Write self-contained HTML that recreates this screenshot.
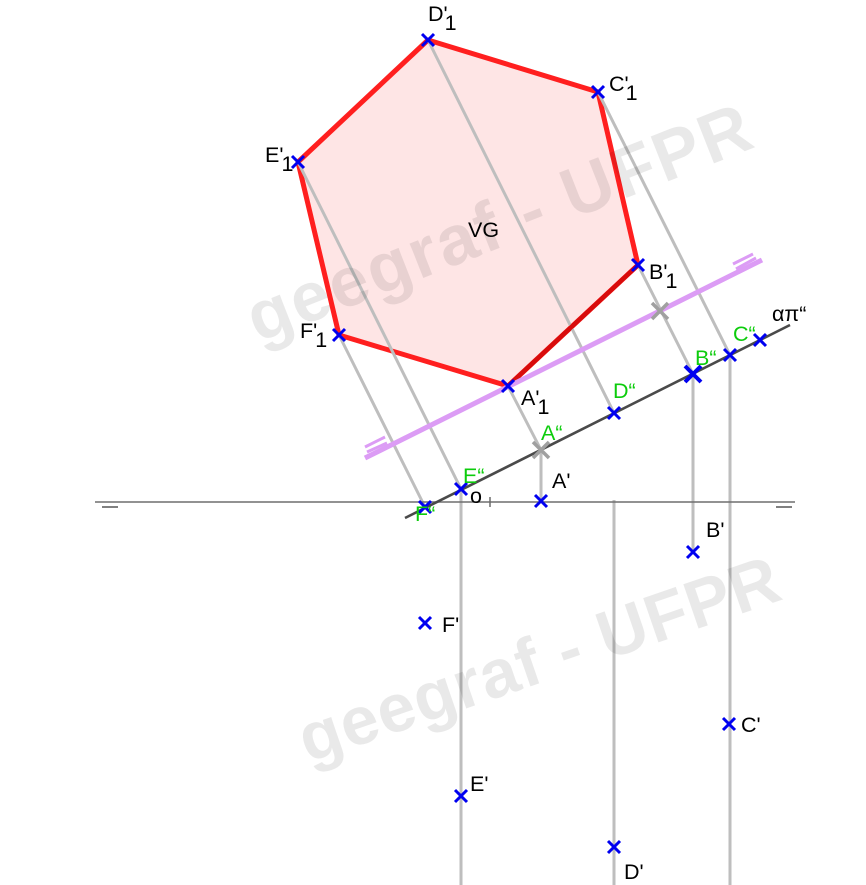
<!DOCTYPE html>
<html lang="pt">
<head>
<meta charset="utf-8">
<title>Verdadeira grandeza - geegraf UFPR</title>
<style>
html,body{margin:0;padding:0;background:#fff}
svg{display:block;font-family:"Liberation Sans",sans-serif}
.lb{font-size:21.5px;fill:#000}
.gr{font-size:21.5px;fill:#0ccc0c}
.wm{font-weight:bold;fill:#000;fill-opacity:.085}
</style>
</head>
<body>
<svg id="chart" width="866" height="885" viewBox="0 0 866 885" xmlns="http://www.w3.org/2000/svg">
<g id="polygon-layer"></g>
<g id="projection-layer"></g>
<text class="wm" style="font-size:70px" textLength="536" transform="translate(258,343) rotate(-21.5)">geegraf - UFPR</text>
<text class="wm" style="font-size:68px" textLength="504" transform="translate(308,763) rotate(-19)">geegraf - UFPR</text>
<g id="line-layer"></g>
<g id="marker-layer"></g>
<g>
<text class="lb" x="428" y="21">D'<tspan dx="-3" dy="9">1</tspan></text>
<text class="lb" x="609" y="91">C'<tspan dx="-3" dy="9">1</tspan></text>
<text class="lb" x="649" y="279">B'<tspan dx="-2" dy="9">1</tspan></text>
<text class="lb" x="521" y="405">A'<tspan dx="-2" dy="9">1</tspan></text>
<text class="lb" x="300" y="338">F'<tspan dx="-2" dy="9">1</tspan></text>
<text class="lb" x="265" y="162">E'<tspan dx="-2" dy="9">1</tspan></text>
<text class="lb" x="468" y="237">VG</text>
<text class="lb" x="552" y="488">A'</text>
<text class="lb" x="706" y="537">B'</text>
<text class="lb" x="741" y="732">C'</text>
<text class="lb" x="624" y="879">D'</text>
<text class="lb" x="470" y="791">E'</text>
<text class="lb" x="442" y="632">F'</text>
<text class="lb" x="470" y="503">o</text>
<text class="lb" x="772" y="321">απ“</text>
<text class="gr" x="541" y="440">A“</text>
<text class="gr" x="695" y="365">B“</text>
<text class="gr" x="733" y="341">C“</text>
<text class="gr" x="613" y="398">D“</text>
<text class="gr" x="463" y="483">E“</text>
<text class="gr" x="415" y="521">F“</text>
</g>
<script>
// Diagram coordinates: origin at the point "o" on the ground line, y upward.
const vgNames = ['A1', 'B1', 'C1', 'D1', 'E1', 'F1'];
const vgX = [18, 148, 108, -62, -192, -151];
const vgY = [116, 237, 410, 462, 340, 167];
const secondNames = ['A2', 'B2', 'C2', 'D2', 'E2', 'F2', 'X2'];
const secondX = [51, 203, 240, 124, -29, -65, 270];
const secondY = [52, 128, 147, 89, 13, -5, 162];
const firstNames = ['A', 'B', 'C', 'D', 'E', 'F'];
const firstX = [51, 203, 239, 124, -29, -65];
const firstY = [1, -50, -222, -345, -294, -121];
const planeTraceX = [-85, 300];
const planeTraceY = [-16, 177];
const parallelTraceX = [-125, 272];
const parallelTraceY = [44, 242];
const groundX = [-395, 305];
const axisBottomY = -383;
const traceMarkX = 170;
const traceMarkY = 191;

const NS = 'http://www.w3.org/2000/svg';
const sx = v => 490 + v;
const sy = v => 502 - v;
const polygonLayer = document.getElementById('polygon-layer');
const projectionLayer = document.getElementById('projection-layer');
const lineLayer = document.getElementById('line-layer');
const markerLayer = document.getElementById('marker-layer');

function seg(parent, x1, y1, x2, y2, color, width, name) {
  const l = document.createElementNS(NS, 'line');
  l.setAttribute('x1', sx(x1));
  l.setAttribute('y1', sy(y1));
  l.setAttribute('x2', sx(x2));
  l.setAttribute('y2', sy(y2));
  l.setAttribute('stroke', color);
  l.setAttribute('stroke-width', width);
  
  
  parent.appendChild(l);
  return l;
}
function cross(x, y, size, color, width, name) {
  const g = document.createElementNS(NS, 'g');
  
  
  markerLayer.appendChild(g);
  seg(g, x - size, y - size, x + size, y + size, color, width, name + '-stroke-a');
  seg(g, x - size, y + size, x + size, y - size, color, width, name + '-stroke-b');
}

const poly = document.createElementNS(NS, 'polygon');
poly.setAttribute('points', vgX.map((v, i) => sx(v) + ',' + sy(vgY[i])).join(' '));
poly.setAttribute('fill', '#fee5e5');
poly.setAttribute('stroke', '#ff1f1f');
poly.setAttribute('stroke-width', '5');
poly.setAttribute('stroke-linejoin', 'round');


polygonLayer.appendChild(poly);

const GREY = '#bebebe';
vgNames.forEach((n, i) => {
  seg(projectionLayer, vgX[i], vgY[i], secondX[i], secondY[i], GREY, 3, 'projection-' + n);
});
seg(projectionLayer, secondX[0], secondY[0], firstX[0], firstY[0], GREY, 3, 'recall-a');
seg(projectionLayer, secondX[1], secondY[1], firstX[1], firstY[1], GREY, 3, 'recall-b');
seg(projectionLayer, secondX[2], secondY[2], secondX[2], axisBottomY, GREY, 3, 'recall-c');
seg(projectionLayer, firstX[3], 2, firstX[3], axisBottomY, GREY, 3, 'recall-d');
seg(projectionLayer, secondX[4], secondY[4], secondX[4], axisBottomY, GREY, 3, 'recall-e');

seg(lineLayer, vgX[0], vgY[0], vgX[1], vgY[1], '#d80c0c', 4.5, 'edge-a1-b1');
seg(lineLayer, parallelTraceX[0], parallelTraceY[0], parallelTraceX[1], parallelTraceY[1], '#dc9cf5', 5, 'parallel-trace');
seg(lineLayer, -125, 55, -105, 65, '#dc9cf5', 3, 'parallel-hatch-left-a');
seg(lineLayer, -123, 50, -103, 59, '#dc9cf5', 3, 'parallel-hatch-left-b');
seg(lineLayer, 243, 238, 263, 248, '#dc9cf5', 3, 'parallel-hatch-right-a');
seg(lineLayer, 246, 233, 266, 244, '#dc9cf5', 3, 'parallel-hatch-right-b');
seg(lineLayer, groundX[0], 0, groundX[1], 0, '#6e6e6e', 1.5, 'ground-line');
seg(lineLayer, -388, -5, -372, -5, '#555555', 1.5, 'ground-mark-left');
seg(lineLayer, 286, -5, 302, -5, '#555555', 1.5, 'ground-mark-right');
seg(lineLayer, 0, -5, 0, 5, '#6a6a6a', 1.5, 'origin-tick');
seg(lineLayer, planeTraceX[0], planeTraceY[0], planeTraceX[1], planeTraceY[1], '#4a4a4a', 2.6, 'plane-trace-alpha-pi');

const BLUE = '#0000f0';
vgNames.forEach((n, i) => cross(vgX[i], vgY[i], 6, BLUE, 3, 'marker-' + n));
secondNames.forEach((n, i) => {
  if (n === 'A2') cross(secondX[i], secondY[i], 8, '#a0a0a0', 3.5, 'marker-' + n);
  else if (n === 'B2') cross(secondX[i], secondY[i], 8, BLUE, 4, 'marker-' + n);
  else cross(secondX[i], secondY[i], 6, BLUE, 3, 'marker-' + n);
});
firstNames.forEach((n, i) => cross(firstX[i], firstY[i], 6, BLUE, 3, 'marker-' + n));
cross(traceMarkX, traceMarkY, 8, '#a0a0a0', 3.5, 'marker-trace-b');
</script>
</svg>
</body>
</html>
